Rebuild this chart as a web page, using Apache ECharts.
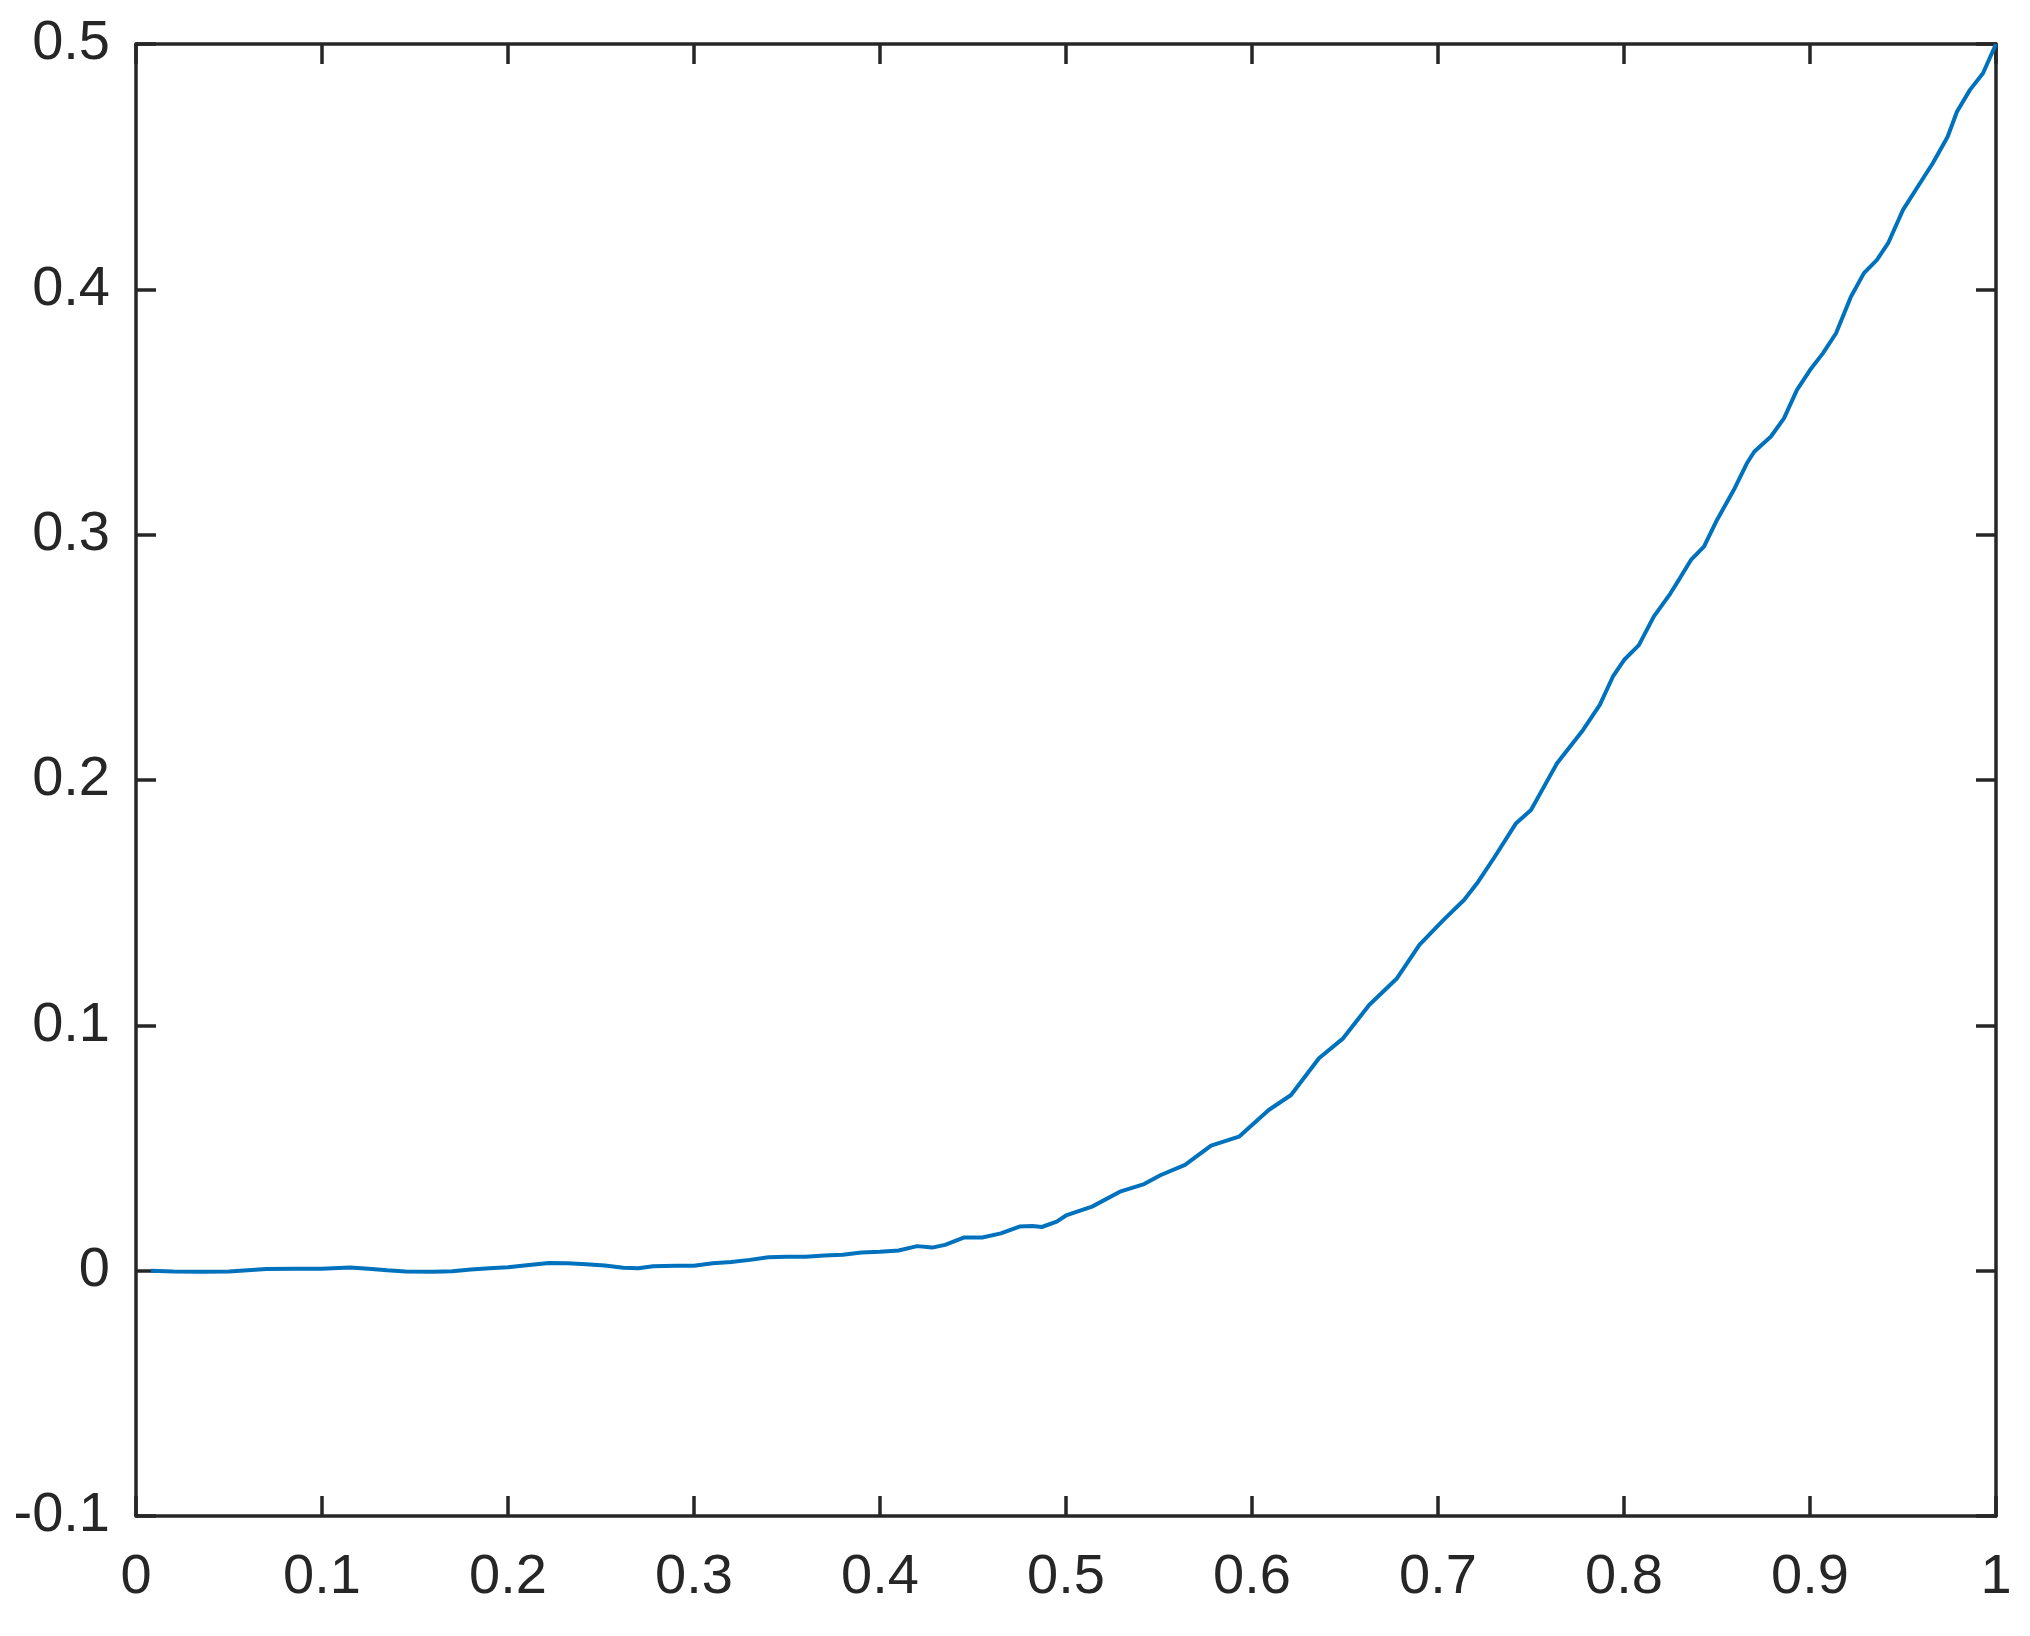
<!DOCTYPE html>
<html>
<head>
<meta charset="utf-8">
<script src="https://cdn.jsdelivr.net/npm/echarts@6/dist/echarts.min.js"></script>
<style>
html,body{margin:0;padding:0;background:#fff;}
#chart{width:2030px;height:1636px;}
</style>
</head>
<body>
<div id="chart"></div>
<script>
const xValues = [0.008,0.02,0.035,0.05,0.06,0.07,0.085,0.1,0.115,0.125,0.135,0.145,0.16,0.17,0.18,0.19,0.2,0.21,0.222,0.232,0.242,0.252,0.262,0.27,0.278,0.29,0.3,0.31,0.32,0.33,0.34,0.35,0.36,0.37,0.38,0.39,0.4,0.41,0.42,0.428,0.435,0.445,0.455,0.465,0.475,0.482,0.487,0.495,0.5,0.514,0.529,0.542,0.551,0.564,0.578,0.593,0.609,0.621,0.636,0.649,0.663,0.678,0.69,0.703,0.714,0.721,0.73,0.742,0.75,0.757,0.764,0.778,0.787,0.794,0.8,0.808,0.816,0.825,0.83,0.836,0.843,0.85,0.859,0.866,0.87,0.879,0.886,0.893,0.9,0.907,0.914,0.922,0.929,0.936,0.942,0.95,0.958,0.966,0.974,0.979,0.986,0.993,1.0];
const yValues = [0.0,-0.0003,-0.0004,-0.0003,0.0002,0.0007,0.0008,0.0008,0.0013,0.0008,0.0002,-0.0003,-0.0004,-0.0002,0.0005,0.001,0.0014,0.0022,0.0031,0.003,0.0026,0.0021,0.0012,0.001,0.0018,0.002,0.002,0.003,0.0035,0.0044,0.0055,0.0057,0.0057,0.0062,0.0065,0.0074,0.0077,0.0082,0.01,0.0094,0.0105,0.0135,0.0135,0.0152,0.018,0.0182,0.0178,0.02,0.0225,0.0261,0.0322,0.0353,0.039,0.0431,0.051,0.0546,0.0655,0.0716,0.0866,0.0947,0.1083,0.1192,0.1328,0.143,0.1511,0.1579,0.1681,0.1824,0.1878,0.1973,0.2068,0.2204,0.2306,0.2421,0.2489,0.255,0.2666,0.2761,0.2822,0.2897,0.2951,0.306,0.3182,0.329,0.3338,0.34,0.3474,0.359,0.3671,0.374,0.3821,0.397,0.4066,0.412,0.4188,0.4324,0.4419,0.4514,0.4622,0.4724,0.4813,0.4881,0.5];
const xTicks = [0,0.1,0.2,0.3,0.4,0.5,0.6,0.7,0.8,0.9,1];
const yTicks = [-0.1,0,0.1,0.2,0.3,0.4,0.5];

const axisColor = '#262626';
const fontFam = '"Liberation Sans", Arial, Helvetica, sans-serif';
const lineStyle = {color: axisColor, width: 3.5};

function fmt(v){ return String(Math.round(v*10)/10); }

const chart = echarts.init(document.getElementById('chart'), null, {renderer:'canvas'});
const data = xValues.map((x,i)=>[x, yValues[i]]);

chart.setOption({
  animation: false,
  backgroundColor: '#fff',
  grid: {left:136, top:44, width:1860, height:1472, containLabel:false},
  xAxis: [
    {type:'value', position:'bottom', min:0, max:1, interval:0.1,
     axisLine:{show:true, onZero:false, lineStyle},
     axisTick:{show:true, inside:true, length:20, lineStyle},
     axisLabel:{show:true, margin:34, color:axisColor, fontSize:56, fontFamily:fontFam, formatter:fmt},
     splitLine:{show:false}},
    {type:'value', position:'top', min:0, max:1, interval:0.1,
     axisLine:{show:true, onZero:false, lineStyle},
     axisTick:{show:true, inside:true, length:20, lineStyle},
     axisLabel:{show:false}, splitLine:{show:false}}
  ],
  yAxis: [
    {type:'value', position:'left', min:-0.1, max:0.5, interval:0.1,
     axisLine:{show:true, onZero:false, lineStyle},
     axisTick:{show:true, inside:true, length:20, lineStyle},
     axisLabel:{show:true, margin:26, color:axisColor, fontSize:56, fontFamily:fontFam, formatter:fmt},
     splitLine:{show:false}},
    {type:'value', position:'right', min:-0.1, max:0.5, interval:0.1,
     axisLine:{show:true, onZero:false, lineStyle},
     axisTick:{show:true, inside:true, length:20, lineStyle},
     axisLabel:{show:false}, splitLine:{show:false}}
  ],
  series: [{
    type:'line', xAxisIndex:0, yAxisIndex:0, data:data,
    showSymbol:false, smooth:false, clip:false,
    lineStyle:{color:'#0072BD', width:4}
  }]
});
</script>
</body>
</html>
